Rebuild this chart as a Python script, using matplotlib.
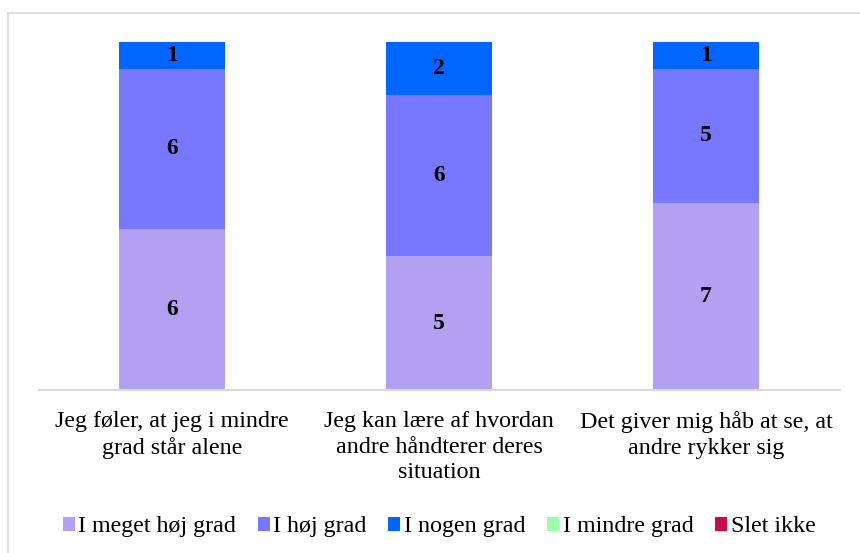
import matplotlib.pyplot as plt
from matplotlib.lines import Line2D
import numpy as np

plt.rcParams['font.family'] = ['Liberation Serif', 'DejaVu Serif']

categories = ["Jeg føler, at jeg i mindre\ngrad står alene",
              "Jeg kan lære af hvordan\nandre håndterer deres\nsituation",
              "Det giver mig håb at se, at\nandre rykker sig"]
series = ["I meget høj grad", "I høj grad", "I nogen grad", "I mindre grad", "Slet ikke"]
values = {
    "I meget høj grad": [6, 5, 7],
    "I høj grad": [6, 6, 5],
    "I nogen grad": [1, 2, 1],
    "I mindre grad": [0, 0, 0],
    "Slet ikke": [0, 0, 0],
}
colors = ["#B4A0F2", "#7777FF", "#0066FF", "#99FFAA", "#CC0A48"]

fig = plt.figure(figsize=(8.6, 5.53), dpi=100)
ax = fig.add_axes([0.0448, 0.2948, 0.9314, 0.678])

x = np.arange(len(categories))
bottom = np.zeros(len(categories))
for name, col in zip(series, colors):
    vals = np.array(values[name], dtype=float)
    ax.bar(x, vals, 0.397, bottom=bottom, color=col, label=name, zorder=2)
    for xi, v, b in zip(x, vals, bottom):
        if v > 0:
            ax.text(xi, b + v / 2, str(int(v)), ha='center', va='center',
                    fontsize=17, fontweight='bold', color='black',
                    family='Liberation Serif', zorder=3)
    bottom += vals

ax.set_xlim(-0.5, 2.5)
ax.set_ylim(0, 14)
ax.set_yticks([])
ax.set_xticks(x)
ax.set_xticklabels(categories, fontsize=17.3, linespacing=1.3)
ax.tick_params(axis='x', length=0, pad=15)
for s in ['top', 'right', 'left']:
    ax.spines[s].set_visible(False)
ax.spines['bottom'].set_color('#D9D9D9')
ax.spines['bottom'].set_linewidth(1.5)

ax.legend(loc='center', bbox_to_anchor=(0.5, -0.365), ncol=5, frameon=False,
          fontsize=17.3, handlelength=0.5, handleheight=0.5, handletextpad=0.15,
          columnspacing=0.9)

# light frame lines (top and left)
fig.add_artist(Line2D([8 / 860, 1], [1 - 13 / 553] * 2, color='#D9D9D9', lw=1.2))
fig.add_artist(Line2D([8 / 860] * 2, [0, 1 - 13 / 553], color='#D9D9D9', lw=1.2))

fig.savefig("out.png", dpi=100)
